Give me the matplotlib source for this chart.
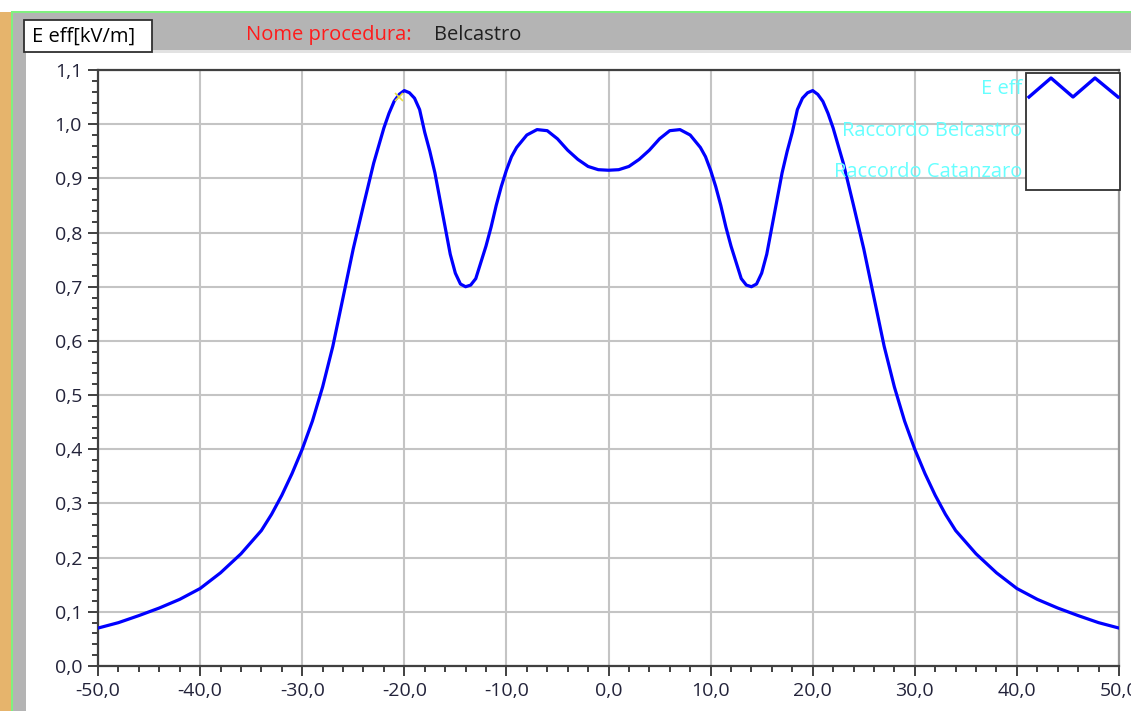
import numpy as np
import matplotlib
matplotlib.use("Agg")
import matplotlib.pyplot as plt
from matplotlib.patches import Rectangle
from matplotlib.lines import Line2D
from matplotlib.ticker import MultipleLocator, FuncFormatter

# distance from line axis [m] and effective electric field [kV/m]
x_m = [-50, -48, -46, -44, -42, -40, -38, -36, -34, -33, -32, -31, -30, -29, -28,
       -27, -26, -25, -24, -23, -22, -21.5, -21, -20.5, -20, -19.5, -19, -18.5, -18,
       -17.5, -17, -16.5, -16, -15.5, -15, -14.5, -14, -13.5, -13, -12.5, -12, -11.5,
       -11, -10.5, -10, -9.5, -9, -8, -7, -6, -5, -4, -3, -2, -1, 0,
       1, 2, 3, 4, 5, 6, 7, 8, 9, 9.5, 10, 10.5, 11, 11.5, 12, 12.5, 13, 13.5, 14,
       14.5, 15, 15.5, 16, 16.5, 17, 17.5, 18, 18.5, 19, 19.5, 20, 20.5, 21, 21.5,
       22, 23, 24, 25, 26, 27, 28, 29, 30, 31, 32, 33, 34, 36, 38, 40, 42, 44, 46,
       48, 50]
e_eff = [0.070, 0.080, 0.093, 0.107, 0.123, 0.143, 0.172, 0.207, 0.250, 0.280, 0.315,
         0.355, 0.400, 0.452, 0.515, 0.590, 0.680, 0.770, 0.850, 0.928, 0.993, 1.020,
         1.042, 1.055, 1.062, 1.058, 1.048, 1.027, 0.985, 0.950, 0.910, 0.860, 0.810,
         0.760, 0.725, 0.705, 0.700, 0.703, 0.715, 0.745, 0.775, 0.810, 0.850, 0.885,
         0.915, 0.940, 0.957, 0.980, 0.990, 0.988, 0.973, 0.952, 0.935, 0.922, 0.916,
         0.915,
         0.916, 0.922, 0.935, 0.952, 0.973, 0.988, 0.990, 0.980, 0.957, 0.940, 0.915,
         0.885, 0.850, 0.810, 0.775, 0.745, 0.715, 0.703, 0.700, 0.705, 0.725, 0.760,
         0.810, 0.860, 0.910, 0.950, 0.985, 1.027, 1.048, 1.058, 1.062, 1.055, 1.042,
         1.020, 0.993, 0.928, 0.850, 0.770, 0.680, 0.590, 0.515, 0.452, 0.400, 0.355,
         0.315, 0.280, 0.250, 0.207, 0.172, 0.143, 0.123, 0.107, 0.093, 0.080, 0.070]
cursor = (-20.5, 1.051)

legend_labels = ["E eff", "Raccordo Belcastro", "Raccordo Catanzaro"]
y_title = "E eff[kV/m]"
proc_label = "Nome procedura:"
proc_name = "Belcastro"

plt.rcParams['font.family'] = ['Open Sans', 'DejaVu Sans']

W, H = 1131, 711
fig = plt.figure(figsize=(W / 100, H / 100), dpi=100)
fig.patch.set_facecolor("white")


def fx(px):
    return px / W


def fy(py):
    return 1 - py / H


def rect(x0, y0, x1, y1, color, **kw):
    fig.add_artist(Rectangle((fx(x0), fy(y1)), fx(x1) - fx(x0), fy(y0) - fy(y1),
                             transform=fig.transFigure, facecolor=color,
                             edgecolor=kw.pop("edgecolor", "none"), **kw))


# window frame
rect(0, 12, 11, H, "#e6b46c")
rect(11, 11, W, 13, "#80f080")
rect(11, 11, 13, H, "#80f080")
rect(13, 13, W, 50, "#b4b4b4")
rect(26, 50, W, 53, "#e2e2e2")
rect(13, 13, 26, H, "#b4b4b4")
rect(24, 20, 152, 52, "white", edgecolor="#303030", linewidth=1.3)

fig.text(fx(32), fy(37), y_title, fontsize=14.5, color="black", va="center", ha="left")
fig.text(fx(246), fy(35), proc_label, fontsize=14.5, color="#ff1a1a", va="center", ha="left")
fig.text(fx(434), fy(35), proc_name, fontsize=14.5, color="#202020", va="center", ha="left")

# plot area
ax = fig.add_axes([fx(98), fy(666), fx(1119) - fx(98), fy(70) - fy(666)])
ax.plot(x_m, e_eff, color="#0000ff", linewidth=2.3, zorder=3)
ax.plot(*cursor, marker="x", color="#e8e040", markersize=6, mew=1.2, zorder=4)

ax.set_xlim(-50, 50)
ax.set_ylim(0, 1.1)
ax.xaxis.set_major_locator(MultipleLocator(10))
ax.xaxis.set_minor_locator(MultipleLocator(2))
ax.yaxis.set_major_locator(MultipleLocator(0.1))
ax.yaxis.set_minor_locator(MultipleLocator(0.02))
fmt = FuncFormatter(lambda v, p: ("%.1f" % v).replace(".", ",").replace("-0,0", "0,0"))
ax.xaxis.set_major_formatter(fmt)
ax.yaxis.set_major_formatter(fmt)

ax.grid(True, which="major", color="#c4c4c4", linewidth=1.5, zorder=1)
ax.tick_params(which="major", direction="out", length=7.5, width=1.2, color="#202020",
               labelsize=14, labelcolor="#23233a", pad=4)
ax.tick_params(which="minor", direction="out", length=4, width=1.2, color="#202020")

for s in ["left", "bottom", "top"]:
    ax.spines[s].set_color("#404040")
    ax.spines[s].set_linewidth(1.6)
ax.spines["right"].set_color("#9a9a9a")
ax.spines["right"].set_linewidth(1.6)

# legend (drawn like the instrument panel)
rect(1026, 73, 1120, 190, "white", edgecolor="#303030", linewidth=1.3, zorder=5)
fig.add_artist(Line2D([fx(1029), fx(1051), fx(1073), fx(1095), fx(1118)],
                      [fy(97), fy(78), fy(97), fy(78), fy(97)],
                      transform=fig.transFigure, color="#0000ff", linewidth=2.4, zorder=6))
for lab, py in zip(legend_labels, [89, 131, 172]):
    fig.text(fx(1022), fy(py), lab, fontsize=14.5, color="#66ffff", ha="right", va="center",
             zorder=6)

fig.savefig("out.png", dpi=100)
